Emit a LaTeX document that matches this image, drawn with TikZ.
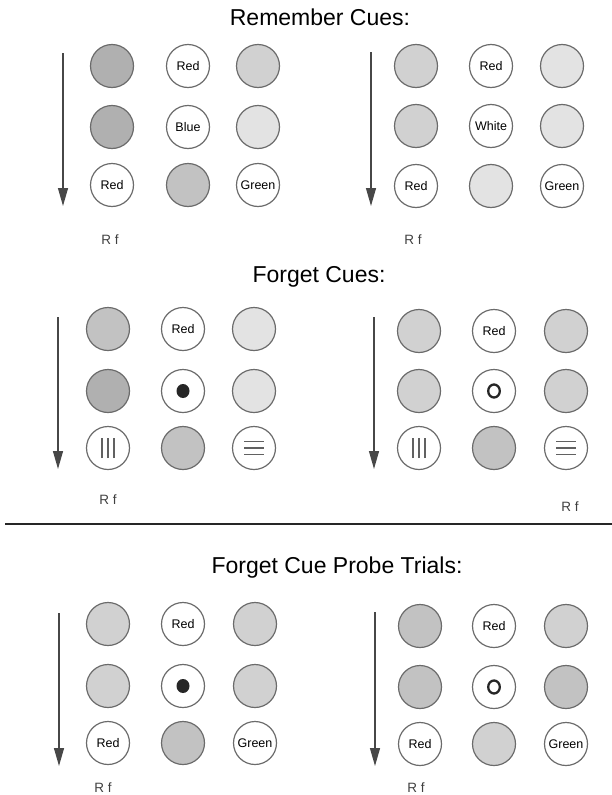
\documentclass[tikz,border=0pt]{standalone}
\usepackage{fontspec}
\setmainfont{Liberation Sans}
\usetikzlibrary{arrows.meta}

\tikzset{
  disc/.style={circle, draw=black!58, line width=1.2pt, minimum size=43pt,
               inner sep=0pt, font=\fontsize{12.5}{14}\selectfont},
  blank/.style={disc, fill=white},
  dark/.style={disc, fill=black!31},
  mid/.style={disc, fill=black!24},
  soft/.style={disc, fill=black!18},
  pale/.style={disc, fill=black!11},
  order/.style={draw=black!72, line width=1.3pt,
                -{Triangle[length=18pt,width=10pt]}},
  rflabel/.style={font=\fontsize{13.5}{15}\selectfont, text=black!75},
  heading/.style={font=\fontsize{23}{26}\selectfont},
  bar/.style={draw=black!85, line width=1.6pt},
  dot/.style={fill=black!85},
  ringmark/.style={draw=black!85, line width=2.3pt},
  stripe/.style={draw=black!62, line width=1.5pt}
}

\begin{document}
\begin{tikzpicture}[x=1pt,y=-1pt]
\useasboundingbox (0,0) rectangle (612,795);

% ---------- Remember cues ----------
\node[heading] (t1) at (320,17) {Remember Cues:};

% left grid
\coordinate (a1s) at (63,53);  \coordinate (a1e) at (63,206);
\draw[order] (a1s) -- (a1e);
\node[dark]  (p1a) at (112,66)  {};
\node[blank] (p1b) at (188,66)  {Red};
\node[soft]  (p1c) at (258,66)  {};
\node[dark]  (p1d) at (112,127) {};
\node[blank] (p1e) at (188,127) {Blue};
\node[pale]  (p1f) at (258,127) {};
\node[blank] (p1g) at (112,185) {Red};
\node[mid]   (p1h) at (188,185) {};
\node[blank] (p1i) at (258,185) {Green};
\node[rflabel] (rf1) at (110,240) {R f};

% right grid
\coordinate (a2s) at (371,52);  \coordinate (a2e) at (371,206);
\draw[order] (a2s) -- (a2e);
\node[soft]  (p2a) at (416,66)  {};
\node[blank] (p2b) at (491,66)  {Red};
\node[pale]  (p2c) at (562,66)  {};
\node[soft]  (p2d) at (416,126) {};
\node[blank] (p2e) at (491,126) {White};
\node[pale]  (p2f) at (562,126) {};
\node[blank] (p2g) at (416,186) {Red};
\node[pale]  (p2h) at (491,186) {};
\node[blank] (p2i) at (562,186) {Green};
\node[rflabel] (rf2) at (413,240) {R f};

% ---------- Forget cues ----------
\node[heading] (t2) at (319,277) {Forget Cues:};

% left grid
\coordinate (a3s) at (58,317);  \coordinate (a3e) at (58,469);
\draw[order] (a3s) -- (a3e);
\node[mid]   (p3a) at (108,329) {};
\node[blank] (p3b) at (183,329) {Red};
\node[pale]  (p3c) at (254,329) {};
\node[dark]  (p3d) at (108,391) {};
\node[blank] (p3e) at (183,391) {};
\node[pale]  (p3f) at (254,391) {};
\node[blank] (p3g) at (108,448) {};
\node[mid]   (p3h) at (183,448) {};
\node[blank] (p3i) at (254,448) {};
\node[rflabel] (rf3) at (108,500) {R f};
\fill[dot] (p3e.center) ellipse [x radius=6.5, y radius=7];
\foreach \dx in {-6,0,6}
  \draw[stripe] ([xshift=\dx pt,yshift=-10pt]p3g.center) -- ([xshift=\dx pt,yshift=10pt]p3g.center);
\foreach \dy in {-6.5,0,6.5}
  \draw[stripe] ([xshift=-10pt,yshift=\dy pt]p3i.center) -- ([xshift=10pt,yshift=\dy pt]p3i.center);

% right grid
\coordinate (a4s) at (374,317);  \coordinate (a4e) at (374,469);
\draw[order] (a4s) -- (a4e);
\node[soft]  (p4a) at (419,331) {};
\node[blank] (p4b) at (494,331) {Red};
\node[soft]  (p4c) at (566,331) {};
\node[soft]  (p4d) at (419,391) {};
\node[blank] (p4e) at (494,391) {};
\node[soft]  (p4f) at (566,391) {};
\node[blank] (p4g) at (419,448) {};
\node[mid]   (p4h) at (494,448) {};
\node[blank] (p4i) at (566,448) {};
\node[rflabel] (rf4) at (570,507) {R f};
\draw[ringmark] (p4e.center) ellipse [x radius=5.8, y radius=6.5];
\foreach \dx in {-6,0,6}
  \draw[stripe] ([xshift=\dx pt,yshift=-10pt]p4g.center) -- ([xshift=\dx pt,yshift=10pt]p4g.center);
\foreach \dy in {-6.5,0,6.5}
  \draw[stripe] ([xshift=-10pt,yshift=\dy pt]p4i.center) -- ([xshift=10pt,yshift=\dy pt]p4i.center);

% ---------- separator ----------
\coordinate (sepl) at (5,524); \coordinate (sepr) at (612,524);
\draw[bar] (sepl) -- (sepr);

% ---------- Forget cue probe trials ----------
\node[heading] (t3) at (337,568) {Forget Cue Probe Trials:};

% left grid
\coordinate (a5s) at (59,613);  \coordinate (a5e) at (59,766);
\draw[order] (a5s) -- (a5e);
\node[soft]  (p5a) at (108,624) {};
\node[blank] (p5b) at (183,624) {Red};
\node[soft]  (p5c) at (255,624) {};
\node[soft]  (p5d) at (108,686) {};
\node[blank] (p5e) at (183,686) {};
\node[soft]  (p5f) at (255,686) {};
\node[blank] (p5g) at (108,743) {Red};
\node[mid]   (p5h) at (183,743) {};
\node[blank] (p5i) at (255,743) {Green};
\node[rflabel] (rf5) at (103,788) {R f};
\fill[dot] (p5e.center) ellipse [x radius=6.5, y radius=7];

% right grid
\coordinate (a6s) at (375,612);  \coordinate (a6e) at (375,766);
\draw[order] (a6s) -- (a6e);
\node[mid]   (p6a) at (420,626) {};
\node[blank] (p6b) at (494,626) {Red};
\node[soft]  (p6c) at (566,626) {};
\node[mid]   (p6d) at (420,687) {};
\node[blank] (p6e) at (494,687) {};
\node[mid]   (p6f) at (566,687) {};
\node[blank] (p6g) at (420,744) {Red};
\node[soft]  (p6h) at (494,744) {};
\node[blank] (p6i) at (566,744) {Green};
\node[rflabel] (rf6) at (416,788) {R f};
\draw[ringmark] (p6e.center) ellipse [x radius=5.8, y radius=6.5];
\end{tikzpicture}
\end{document}
